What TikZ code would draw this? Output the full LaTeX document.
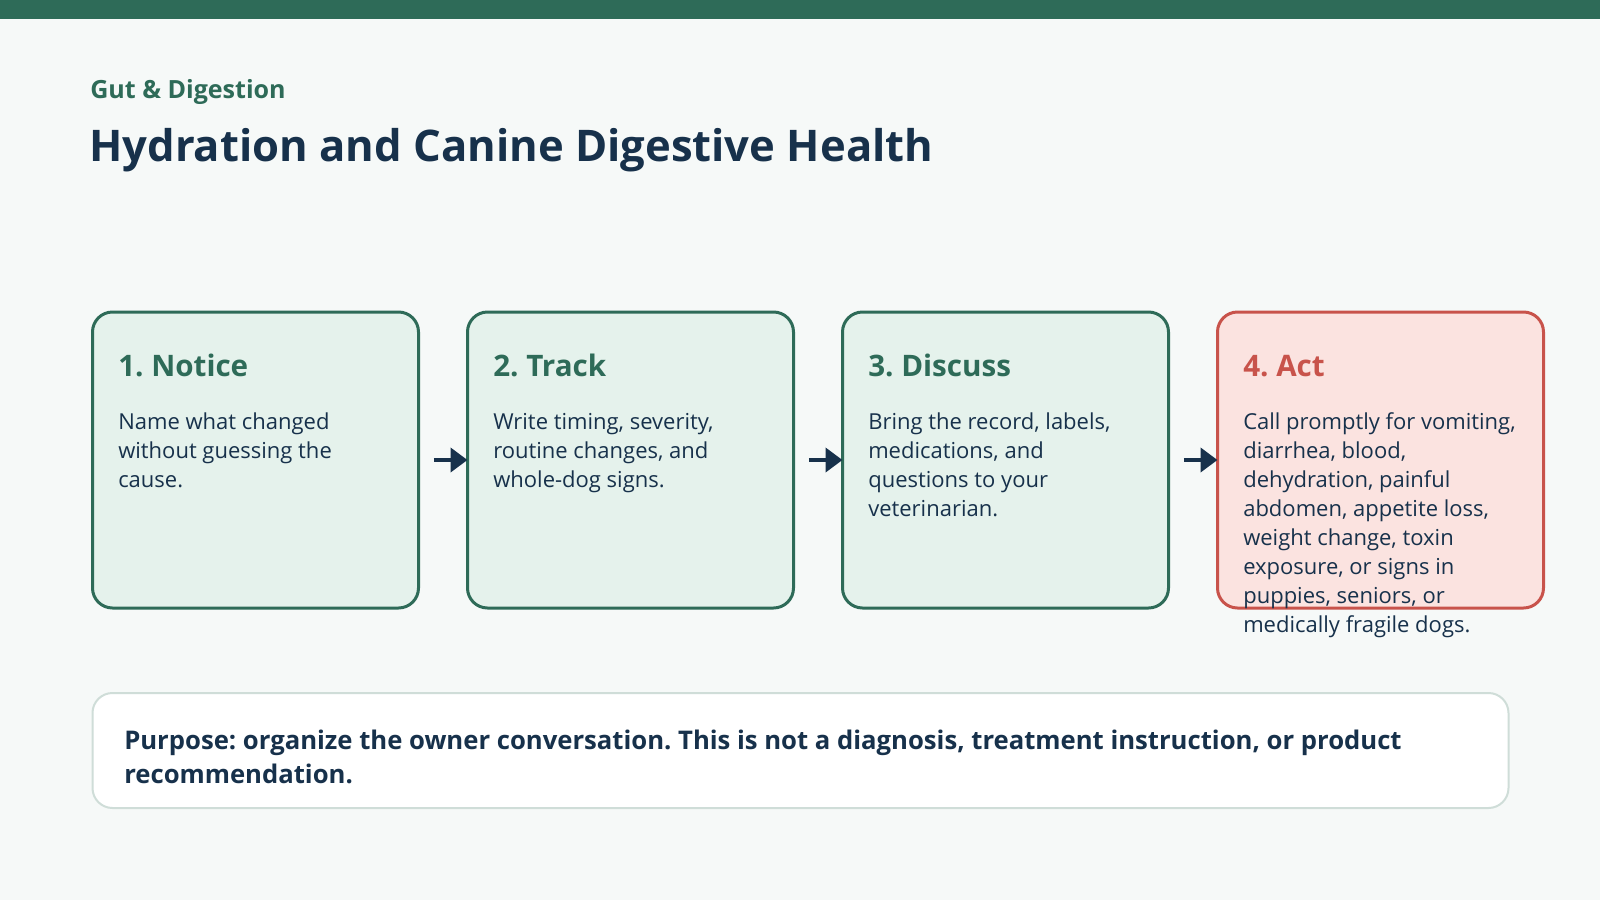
\documentclass[tikz,border=0pt]{standalone}
\usepackage{fontspec}
\setmainfont{Open Sans}
\frenchspacing
\usetikzlibrary{positioning,arrows.meta}

\definecolor{pine}{HTML}{2E6B58}
\definecolor{navy}{HTML}{17314B}
\definecolor{mint}{HTML}{E5F2EC}
\definecolor{rose}{HTML}{FBE3E0}
\definecolor{brick}{HTML}{C8534B}
\definecolor{paper}{HTML}{F6F9F8}
\definecolor{haze}{HTML}{CFDDD8}

% lines of text, baseline on the first one
\newcommand{\steptext}[1]{\begin{tabular}[t]{@{}l@{}}#1\end{tabular}}

\tikzset{
  stepbox/.style={draw=pine, fill=mint, line width=2.25pt, rounded corners=15pt,
    minimum width=244.5pt, minimum height=222pt, inner sep=0pt, outer sep=0pt},
  actbox/.style={stepbox, draw=brick, fill=rose},
  steptitle/.style={anchor=base west, inner sep=0pt, text=pine,
    font=\fontsize{22.2}{26}\selectfont\bfseries},
  stepbody/.style={anchor=base west, inner sep=0pt, text=navy,
    font=\fontsize{16.5}{21.75}\selectfont},
  flow/.style={draw=navy, line width=3pt, shorten <=11.6pt,
    -{Triangle[length=12.75pt, width=18pt]}}
}

\begin{document}
\begin{tikzpicture}[x=0.75pt, y=-0.75pt]

\fill[paper] (0,0) rectangle (1600,900);
\fill[pine] (0,0) rectangle (1600,19);

% Heading
\node[anchor=base west, inner sep=0pt, text=pine,
  font=\fontsize{18.8}{22}\selectfont\bfseries] (kicker) at (90,98)
{Gut \& Digestion};
\node[anchor=base west, inner sep=0pt, text=navy,
  font=\fontsize{32.7}{40}\selectfont\bfseries] (title) at (89,161)
{Hydration and Canine Digestive Health};

% Steps
\node[stepbox] (notice) at (255.5,460) {};
\node[stepbox, right=36.75pt of notice] (track) {};
\node[stepbox, right=36.75pt of track] (discuss) {};
\node[actbox, right=36.75pt of discuss] (act) {};

\foreach \a/\b in {notice/track, track/discuss, discuss/act}
{
\draw[flow] (\a) -- (\b);
}

\node[steptitle] (noticetitle) at (118,376) {1. Notice};
\node[stepbody] (noticetext) at (118,429)
{\steptext{Name what changed\\without guessing the\\cause.}};

\node[steptitle] (tracktitle) at (493,376) {2. Track};
\node[stepbody] (tracktext) at (493,429)
{\steptext{Write timing, severity,\\routine changes, and\\whole-dog signs.}};

\node[steptitle] (discusstitle) at (868,376) {3. Discuss};
\node[stepbody] (discusstext) at (868,429)
{\steptext{Bring the record, labels,\\medications, and\\questions to your\\veterinarian.}};

\node[steptitle, text=brick] (acttitle) at (1243,376) {4. Act};
\node[stepbody] (acttext) at (1243,429)
{\steptext{Call promptly for vomiting,\\diarrhea, blood,\\dehydration, painful\\abdomen, appetite loss,\\weight change, toxin\\exposure, or signs in\\puppies, seniors, or\\medically fragile dogs.}};

% Purpose
\node[draw=haze, fill=white, line width=1.5pt, rounded corners=15pt,
  minimum width=1062pt, minimum height=86.25pt, inner sep=0pt] (purpose) at (800.5,750.5) {};
\node[anchor=base west, inner sep=0pt, text=navy,
  font=\fontsize{19.25}{25.5}\selectfont\bfseries] (purposetext) at (124,749)
{\steptext{Purpose: organize the owner conversation. This is not a diagnosis, treatment instruction, or product\\recommendation.}};

\end{tikzpicture}
\end{document}
